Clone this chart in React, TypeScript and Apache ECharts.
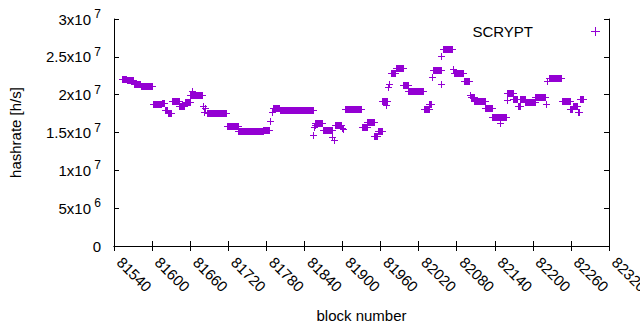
import React, { useEffect, useRef } from 'react';
import * as echarts from 'echarts';

// Runs of consecutive blocks sharing the same hashrate (block numbers, inclusive)
const runStart = [
  81553, 81560, 81571, 81582, 81601, 81615, 81620, 81625, 81631, 81643,
  81652, 81660, 81663, 81680, 81682, 81684, 81687, 81718, 81736, 81775,
  81786, 81789, 81791, 81801, 81854, 81855, 81856, 81857, 81869, 81884,
  81886, 81888, 81899, 81901, 81904, 81930, 81939, 81950, 81956, 81963,
  81969, 81972, 81974, 81976, 81984, 81996, 82004, 82028, 82037, 82041,
  82042, 82055, 82056, 82058, 82074, 82076, 82091, 82101, 82102, 82108,
  82125, 82136, 82148, 82159, 82160, 82169, 82176, 82180, 82188, 82204,
  82220, 82222, 82225, 82246, 82259, 82263, 82271, 82274,
];
const runEnd = [
  81559, 81570, 81581, 81600, 81614, 81619, 81624, 81630, 81642, 81651,
  81659, 81679, 81663, 81680, 81682, 81684, 81717, 81735, 81774, 81784,
  81786, 81789, 81800, 81853, 81854, 81855, 81856, 81868, 81883, 81884,
  81886, 81898, 81899, 81901, 81929, 81938, 81949, 81955, 81962, 81970,
  81969, 81972, 81974, 81983, 81995, 82003, 82027, 82036, 82040, 82041,
  82055, 82055, 82056, 82072, 82074, 82090, 82100, 82101, 82107, 82124,
  82135, 82158, 82148, 82159, 82168, 82175, 82179, 82187, 82203, 82219,
  82220, 82222, 82245, 82258, 82262, 82270, 82273, 82279,
];
// hashrate in units of 10^7 h/s
const runValue = [
  2.21, 2.19, 2.145, 2.11, 1.875, 1.89, 1.80, 1.76, 1.91, 1.85,
  1.90, 2.00, 2.05, 1.85, 1.77, 1.83, 1.76, 1.59, 1.52, 1.535,
  1.65, 1.77, 1.83, 1.80, 1.47, 1.57, 1.60, 1.63, 1.53, 1.44,
  1.40, 1.605, 1.56, 1.55, 1.81, 1.57, 1.64, 1.45, 1.52, 1.92,
  1.86, 2.10, 2.14, 2.29, 2.35, 2.13, 2.05, 1.815, 1.88, 2.23,
  2.33, 2.14, 2.51, 2.60, 2.34, 2.29, 2.18, 1.99, 1.97, 1.92,
  1.82, 1.70, 1.63, 1.93, 2.02, 1.94, 1.85, 1.94, 1.90, 1.97,
  1.88, 2.18, 2.22, 1.92, 1.81, 1.85, 1.77, 1.94,
];

const seriesName = 'SCRYPT';
const xName = 'block number';
const yName = 'hashrate [h/s]';
const xMin = 81540;
const xMax = 82320;
const xStep = 60;
const yMin = 0;
const yMax = 3e7;
const yStep = 5e6;

const FONT = '"Liberation Sans", Arial, sans-serif';
const COLOR = '#9400D3';
const PLUS = 'path://M4,0h1v4h4v1h-4v4h-1v-4h-4v-1h4z';

function yLabel(v: number): string {
  if (v === 0) return '{b|0}';
  const exp = Math.floor(Math.log10(v) + 1e-9);
  const m = Math.round((v / Math.pow(10, exp)) * 10) / 10;
  return `{b|${m}x10}{s| ${exp}}`;
}

export default function App() {
  const ref = useRef<HTMLDivElement>(null);
  useEffect(() => {
    const chart = echarts.init(ref.current!, null, { renderer: 'svg' });
    const data = runStart.map((s, i) => [s, runEnd[i], runValue[i] * 1e7]);
    const axisLine = { show: true, lineStyle: { color: '#000', width: 1 } };
    const tick = { show: true, inside: true, length: 5, lineStyle: { color: '#000', width: 1 } };
    chart.setOption({
      animation: false,
      backgroundColor: '#fff',
      textStyle: { fontFamily: FONT },
      grid: { left: 114, right: 31, top: 19, bottom: 84, outerBoundsMode: 'none' },
      legend: {
        data: [{ name: seriesName, icon: PLUS }],
        right: 40,
        top: 24,
        align: 'right',
        itemWidth: 9,
        itemHeight: 9,
        padding: 0,
        textStyle: { fontSize: 15, color: '#000', fontFamily: FONT, padding: [0, 53, 0, 0] },
      },
      xAxis: [
        {
          type: 'value',
          min: xMin,
          max: xMax,
          interval: xStep,
          position: 'bottom',
          name: xName,
          nameLocation: 'middle',
          nameGap: 62,
          nameTextStyle: { fontSize: 15, color: '#000', fontFamily: FONT },
          axisLine,
          axisTick: tick,
          splitLine: { show: false },
          axisLabel: {
            rotate: -45,
            margin: 8,
            padding: [0, 0, 0, 8],
            fontSize: 15,
            color: '#000',
            fontFamily: FONT,
            hideOverlap: false,
            showMinLabel: true,
            showMaxLabel: true,
            formatter: (v: number) => String(v),
          },
        },
        {
          type: 'value',
          min: xMin,
          max: xMax,
          interval: xStep,
          position: 'top',
          axisLine,
          axisTick: tick,
          splitLine: { show: false },
          axisLabel: { show: false },
        },
      ],
      yAxis: [
        {
          type: 'value',
          min: yMin,
          max: yMax,
          interval: yStep,
          position: 'left',
          name: yName,
          nameLocation: 'middle',
          nameGap: 91,
          nameTextStyle: { fontSize: 15, color: '#000', fontFamily: FONT },
          axisLine,
          axisTick: tick,
          splitLine: { show: false },
          axisLabel: {
            margin: 13,
            color: '#000',
            fontFamily: FONT,
            formatter: yLabel,
            rich: {
              b: { fontSize: 15, lineHeight: 22, verticalAlign: 'middle', color: '#000', fontFamily: FONT },
              s: { fontSize: 12, lineHeight: 12, verticalAlign: 'top', color: '#000', fontFamily: FONT },
            },
          },
        },
        {
          type: 'value',
          min: yMin,
          max: yMax,
          interval: yStep,
          position: 'right',
          axisLine,
          axisTick: tick,
          splitLine: { show: false },
          axisLabel: { show: false },
        },
      ],
      series: [
        {
          type: 'custom',
          name: seriesName,
          xAxisIndex: 0,
          yAxisIndex: 0,
          itemStyle: { color: COLOR },
          encode: { x: [0, 1], y: 2 },
          data,
          renderItem: (params: any, api: any) => {
            const a = api.coord([api.value(0), api.value(2)]);
            const b = api.coord([api.value(1), api.value(2)]);
            const x0 = Math.round(a[0]);
            const x1 = Math.round(b[0]);
            const y = Math.round(a[1]);
            return {
              type: 'group',
              children: [
                {
                  type: 'rect',
                  shape: { x: x0, y: y - 3, width: x1 - x0 + 1, height: 7 },
                  style: { fill: COLOR },
                },
                {
                  type: 'rect',
                  shape: { x: x0 - 3, y: y, width: x1 - x0 + 7, height: 1 },
                  style: { fill: COLOR },
                },
              ],
            };
          },
        },
      ],
    });
    return () => chart.dispose();
  }, []);
  return (
    <div
      ref={ref}
      style={{ position: 'fixed', left: 0, top: 0, width: 640, height: 330, background: '#fff' }}
    />
  );
}
